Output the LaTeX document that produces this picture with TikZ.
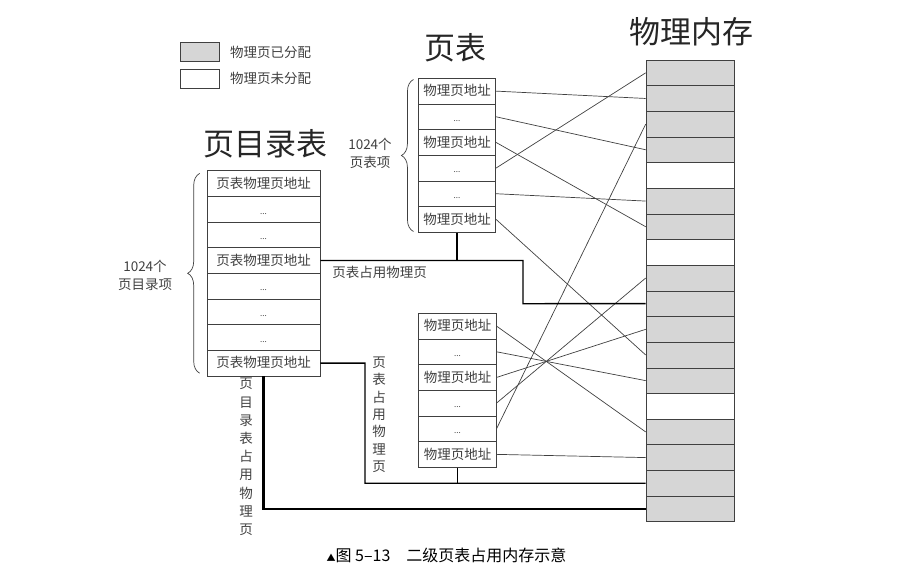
\documentclass[tikz,border=0pt]{standalone}
\usepackage{fontspec}
\setmainfont{Noto Sans CJK SC}
\usepackage{tikz}
\usetikzlibrary{calc,decorations.pathreplacing}
\definecolor{usedgray}{RGB}{214,214,214}
\newcommand{\rowdots}{{\fontsize{8}{8}\selectfont ...}}

\begin{document}
\begin{tikzpicture}[x=1pt,y=-1pt,
    cell/.style={draw=black!75,line width=0.6pt,inner sep=0pt,minimum height=25.65pt,text height=11.5pt,text depth=1.8pt,text=black!75,font=\fontsize{13.5}{16}\selectfont},
    dircell/.style={cell,minimum width=113pt},
    ptcell/.style={cell,minimum width=77.5pt},
    memcell/.style={draw=black!75,line width=0.6pt,inner sep=0pt,minimum width=88pt,minimum height=25.65pt},
    title/.style={font=\fontsize{31}{31}\selectfont,text=black!85},
    lbl/.style={font=\fontsize{13.5}{18}\selectfont,text=black!75},
    map/.style={black!75,line width=0.7pt},
    occ/.style={black,line width=1.4pt},
    brc/.style={decorate,decoration={brace,amplitude=12pt},black!75,line width=0.7pt}]
            \useasboundingbox (0,0) rectangle (922,568);
            % legend
            \node (usedkey) at (199.5,52) [draw=black!75,fill=usedgray,minimum width=39pt,minimum height=19pt,inner sep=0pt] {};
            \node (freekey) at (199.5,78.8) [draw=black!75,minimum width=39pt,minimum height=19pt,inner sep=0pt] {};
            \node (usedtext) at (230,52) [lbl,anchor=west,inner sep=0pt] {物理页已分配};
            \node (freetext) at (230,78.8) [lbl,anchor=west,inner sep=0pt] {物理页未分配};
            % titles
            \node (dirtitle) at (265,144) [title] {页目录表};
            \node (pttitle) at (455,48) [title] {页表};
            \node (memtitle) at (691,32) [title] {物理内存};
            % page directory
            \foreach \i/\t in {1/页表物理页地址,2/\rowdots,3/\rowdots,4/页表物理页地址,5/\rowdots,6/\rowdots,7/\rowdots,8/页表物理页地址}
                \node (d\i) at (263.5,{170.7+25.65*(\i-0.5)}) [dircell] {\t};
            % page tables
            \foreach \i/\t in {1/物理页地址,2/\rowdots,3/物理页地址,4/\rowdots,5/\rowdots,6/物理页地址} {
                \node (pa\i) at (457,{78.3+25.65*(\i-0.5)}) [ptcell] {\t};
                \node (pb\i) at (457.5,{313.3+25.65*(\i-0.5)}) [ptcell] {\t};
            }
            % physical memory
            \foreach \i/\c in {1/usedgray,2/usedgray,3/usedgray,4/usedgray,5/white,6/usedgray,7/usedgray,8/white,9/usedgray,10/usedgray,11/usedgray,12/usedgray,13/usedgray,14/white,15/usedgray,16/usedgray,17/usedgray,18/usedgray}
                \node (m\i) at (690,{60+25.65*(\i-0.5)}) [memcell,fill=\c] {};
            % braces
            \draw [brc] ($(d8.south west)+(-7,-3)$) -- ($(d1.north west)+(-7,3)$);
            \draw [brc] ($(pa6.south west)+(-4.5,-1)$) -- ($(pa1.north west)+(-4.5,1.5)$);
            \node (dirnum) at (145,275) [lbl,align=center] {1024个\\页目录项};
            \node (ptnum) at (370,153) [lbl,align=center] {1024个\\页表项};
            % entries -> physical pages
            \foreach \a/\b in {pa1/m2,pa2/m4,pa3/m7,pa4/m1,pa5/m6,pa6/m12,pb1/m15,pb2/m13,pb3/m11,pb4/m9,pb5/m3,pb6/m16}
                \draw [map] (\a.east) -- (\b.west);
            % pages used by the tables
            \coordinate (ja) at (523,303.7);
            \coordinate (jb) at (365,483.2);
            \draw [occ] (d4.east) -| (ja) -- (m10.west);
            \draw [occ] (pa6.south) -- (pa6.south |- d4.east);
            \draw [occ] (d8.east) -| (jb) -- (m17.west);
            \draw [occ] (pb6.south) -- (pb6.south |- m17.west);
            \draw [black,line width=2.6pt] (d8.south) |- (m18.west);
            \node (ptused) at (379.5,272.5) [lbl] {页表占用物理页};
            \node (ptusedv) at (379,414.7) [lbl,align=center,font=\fontsize{13.5}{17.3}\selectfont] {页\\表\\占\\用\\物\\理\\页};
            \node (dirusedv) at (246,457) [lbl,align=center,font=\fontsize{13.5}{18.2}\selectfont] {页\\目\\录\\表\\占\\用\\物\\理\\页};
            % caption
            \node (caption) at (446.5,555) [font=\fontsize{16}{18}\selectfont] {{\fontsize{9}{9}\selectfont ▲}图 5–13\hspace{1em}二级页表占用内存示意};
        \end{tikzpicture}
\end{document}
